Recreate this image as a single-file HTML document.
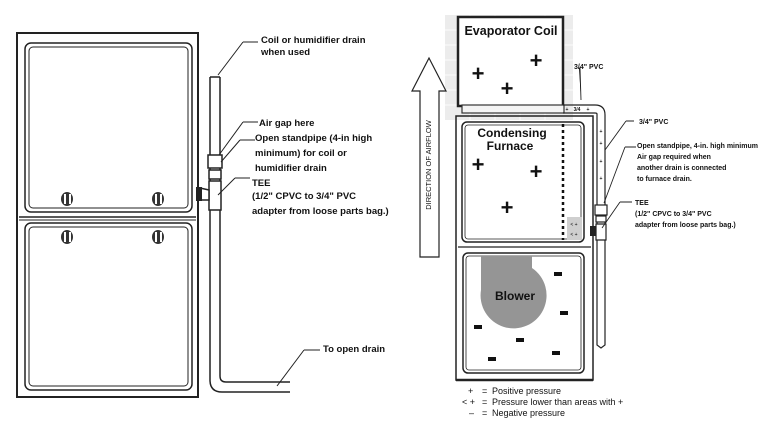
<!DOCTYPE html>
<html><head><style>
html,body{margin:0;padding:0;background:#fff;}
svg{display:block;}
text{font-family:"Liberation Sans",sans-serif;fill:#111;}
.b{font-weight:bold;}
</style></head><body>
<svg width="780" height="446" viewBox="0 0 780 446" xmlns="http://www.w3.org/2000/svg">
<!-- LEFT FURNACE -->
<g stroke="#222" fill="none">
<rect x="17" y="33" width="181" height="364" stroke-width="2"/>
<rect x="25" y="43" width="167" height="169" rx="6" stroke-width="1.5"/>
<rect x="29" y="47" width="159" height="161" rx="4" stroke-width="1"/>
<line x1="19" y1="217" x2="196" y2="217" stroke-width="1.5"/>
<line x1="19" y1="220" x2="196" y2="220" stroke-width="1"/>
<rect x="25" y="223" width="167" height="167" rx="6" stroke-width="1.5"/>
<rect x="29" y="227" width="159" height="159" rx="4" stroke-width="1"/>
</g>
<g fill="#333">
<ellipse cx="67" cy="199" rx="6" ry="7"/><ellipse cx="158" cy="199" rx="6" ry="7"/>
<ellipse cx="67" cy="237" rx="6" ry="7"/><ellipse cx="158" cy="237" rx="6" ry="7"/>
</g>
<g fill="#fff"><rect x="64" y="194" width="2" height="10"/><rect x="69" y="194" width="2" height="10"/>
<rect x="155" y="194" width="2" height="10"/><rect x="160" y="194" width="2" height="10"/>
<rect x="64" y="232" width="2" height="10"/><rect x="69" y="232" width="2" height="10"/>
<rect x="155" y="232" width="2" height="10"/><rect x="160" y="232" width="2" height="10"/></g>
<!-- left pipe -->
<g stroke="#222" fill="none" stroke-width="1.5">
<path d="M210 77 V380 Q210 392 222 392 H290"/>
<path d="M220 77 V376 Q220 382 226 382 H290"/>
<line x1="210" y1="77" x2="220" y2="77"/>
<rect x="208" y="155" width="14" height="13" fill="#fff"/>
<rect x="209" y="170" width="12" height="9" fill="#fff"/>
<path d="M209 181 H221 V210 H209 Z" fill="#fff"/>
<path d="M200 188 L209 190 L209 200 L200 200" fill="#fff"/>
</g>
<rect x="196" y="187" width="6" height="14" fill="#222"/>
<g stroke="#222" stroke-width="1">
<path d="M243 42 H258 M243 42 L218 75"/>
<path d="M243 122 H258 M243 122 L219 155"/>
<path d="M240 140 H255 M240 140 L221 162"/>
<path d="M235 178 H250 M235 178 L218 195"/>
<path d="M304 350 H320 M304 350 L277 386"/>
</g>
<g class="b" font-size="9.5">
<text x="261" y="43" class="b">Coil or humidifier drain</text>
<text x="261" y="55" class="b">when used</text>
<text x="259" y="126" class="b">Air gap here</text>
<text x="255" y="141" class="b">Open standpipe (4-in high</text>
<text x="255" y="156" class="b">minimum) for coil or</text>
<text x="255" y="171" class="b">humidifier drain</text>
<text x="252" y="186" class="b">TEE</text>
<text x="252" y="199" class="b">(1/2" CPVC to 3/4" PVC</text>
<text x="252" y="214" class="b">adapter from loose parts bag.)</text>
<text x="323" y="352" class="b">To open drain</text>
</g>
<!-- RIGHT -->
<rect x="445" y="15" width="128" height="105" fill="#ececec"/>
<g stroke="#fff" stroke-width="1" opacity="0.8">
<line x1="445" y1="30" x2="573" y2="30"/><line x1="445" y1="45" x2="573" y2="45"/><line x1="445" y1="60" x2="573" y2="60"/><line x1="445" y1="75" x2="573" y2="75"/><line x1="445" y1="90" x2="573" y2="90"/><line x1="445" y1="105" x2="573" y2="105"/>
<line x1="470" y1="15" x2="470" y2="120"/><line x1="495" y1="15" x2="495" y2="120"/><line x1="520" y1="15" x2="520" y2="120"/><line x1="545" y1="15" x2="545" y2="120"/>
</g>
<rect x="458" y="17" width="105" height="89" fill="#fff" stroke="#222" stroke-width="2.5"/>
<text x="511" y="35" font-size="12.5" text-anchor="middle" class="b">Evaporator Coil</text>
<rect x="462" y="105" width="102" height="8" fill="#f4f4f4" stroke="#333" stroke-width="1.2"/>
<g stroke="#222" fill="none">
<rect x="456" y="116" width="137" height="264" stroke-width="1.5"/>
<rect x="462" y="122" width="122" height="120" rx="5" stroke-width="1.5"/>
<rect x="465" y="125" width="116" height="114" rx="3" stroke-width="0.8"/>
<line x1="458" y1="247" x2="591" y2="247" stroke-width="1.2"/>
<rect x="463" y="253" width="121" height="120" rx="5" stroke-width="1.5"/>
<rect x="466" y="256" width="115" height="114" rx="3" stroke-width="0.8"/>
<line x1="456" y1="380" x2="593" y2="380" stroke-width="2.5"/>
</g>
<line x1="563" y1="124" x2="563" y2="240" stroke="#111" stroke-width="2.5" stroke-dasharray="3,3"/>
<rect x="567" y="217" width="15" height="23" fill="#cfcfcf"/>
<text x="574" y="226" font-size="5" text-anchor="middle">&lt; +</text>
<text x="574" y="236" font-size="5" text-anchor="middle">&lt; +</text>
<text x="512" y="137" font-size="12" text-anchor="middle" class="b">Condensing</text>
<text x="510" y="150" font-size="12" text-anchor="middle" class="b">Furnace</text>
<g font-size="22" class="b" text-anchor="middle">
<text x="478" y="81">+</text><text x="536" y="68">+</text><text x="507" y="96">+</text>
<text x="478" y="172">+</text><text x="536" y="179">+</text><text x="507" y="215">+</text>
</g>
<path d="M481 256 H532 V268 A33 33 0 1 1 481 290 Z" fill="#959595"/>
<text x="515" y="300" font-size="12" text-anchor="middle" class="b">Blower</text>
<g fill="#111">
<rect x="554" y="272" width="8" height="4"/><rect x="560" y="311" width="8" height="4"/>
<rect x="474" y="325" width="8" height="4"/><rect x="516" y="338" width="8" height="4"/>
<rect x="552" y="351" width="8" height="4"/><rect x="488" y="357" width="8" height="4"/>
</g>
<!-- arrow -->
<path d="M420 257 V91 H412 L429 58 L446 91 H439 V257 Z" fill="#fff" stroke="#222" stroke-width="1.2"/>
<text transform="translate(431,165) rotate(-90)" font-size="7.5" text-anchor="middle">DIRECTION OF AIRFLOW</text>
<!-- right pipe -->
<g stroke="#222" fill="none" stroke-width="1.2">
<path d="M563 105 H595 Q605 105 605 115 V345 L601 348 L597 345 V114 Q597 113 595 113 H563"/>
<rect x="595" y="205" width="12" height="10" fill="#fff"/>
<rect x="596" y="216" width="10" height="6" fill="#fff"/>
<path d="M596 224 H606 V240 H596 Z" fill="#fff"/>
</g>
<rect x="590" y="226" width="6" height="10" fill="#222"/>
<g font-size="5" text-anchor="middle" class="b">
<text x="567" y="111">+</text><text x="577" y="111">3/4</text><text x="588" y="111">+</text>
<text x="601" y="133">+</text><text x="601" y="145">+</text><text x="601" y="163">+</text><text x="601" y="180">+</text>
</g>
<g stroke="#222" stroke-width="0.9">
<path d="M579 68 L580 68 L581 100"/>
<path d="M626 121 H634 M626 121 L605 150"/>
<path d="M625 147 H636 M625 147 L604 203"/>
<path d="M620 202 H632 M620 202 L602 228"/>
</g>
<g font-size="7" class="b">
<text x="574" y="69" class="b">3/4" PVC</text>
<text x="639" y="124" class="b">3/4" PVC</text>
<text x="637" y="148" class="b">Open standpipe, 4-in. high minimum</text>
<text x="637" y="159" class="b">Air gap required when</text>
<text x="637" y="170" class="b">another drain is connected</text>
<text x="637" y="181" class="b">to furnace drain.</text>
<text x="635" y="205" class="b">TEE</text>
<text x="635" y="216" class="b">(1/2" CPVC to 3/4" PVC</text>
<text x="635" y="227" class="b">adapter from loose parts bag.)</text>
</g>
<g font-size="9">
<text x="468" y="394">+</text><text x="482" y="394">=</text><text x="492" y="394">Positive pressure</text>
<text x="462" y="405">&lt; +</text><text x="482" y="405">=</text><text x="492" y="405">Pressure lower than areas with +</text>
<text x="469" y="416">–</text><text x="482" y="416">=</text><text x="492" y="416">Negative pressure</text>
</g>
</svg>
</body></html>
